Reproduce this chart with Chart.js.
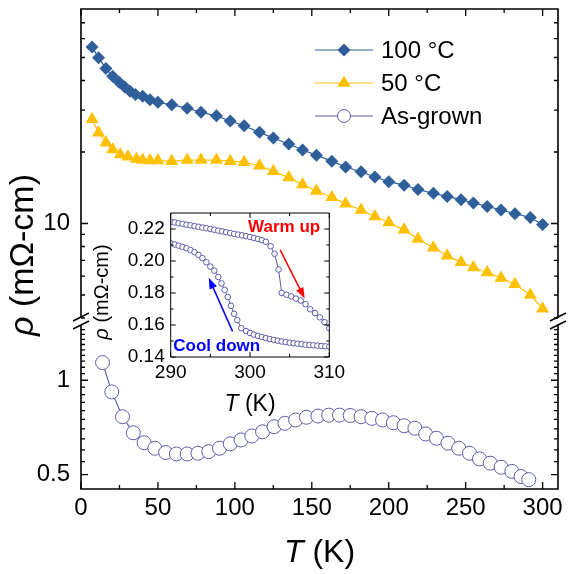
<!DOCTYPE html>
<html>
<head>
<meta charset="utf-8">
<title>Resistivity vs temperature</title>
<script src="https://cdn.jsdelivr.net/npm/chart.js@4.4.1/dist/chart.umd.min.js"></script>
<style>
  body { margin: 0; background: #fff; }
  #box { position: relative; width: 568px; height: 574px; }
  #box canvas { position: absolute; left: 0; top: 0; }
</style>
</head>
<body>
<div id="box">
  <canvas id="upper" width="568" height="574"></canvas>
  <canvas id="lower" width="568" height="574"></canvas>
  <canvas id="inset" width="568" height="574"></canvas>
</div>
<script>
// 100 °C annealed
const t100 = [7.2, 11.4, 16.2, 20.6, 24.8, 28.4, 31.9, 35.4, 40.1, 44.8, 50,
  59, 69, 78, 88, 97, 106, 116, 125, 135, 144, 153, 163, 172, 182, 191, 200,
  210, 219, 229, 238, 247, 255, 264, 273, 282, 292, 300];
const rho100 = [55.3, 49.9, 44.9, 41.7, 39.3, 37.6, 36.0, 34.9, 34.3, 33.2, 32.4,
  31.6, 30.6, 29.4, 28.4, 27.0, 25.8, 24.2, 22.9, 21.6, 20.4, 19.4, 18.3, 17.3, 16.5, 15.7, 15.0,
  14.5, 13.9, 13.4, 13.0, 12.6, 12.2, 11.8, 11.4, 11.0, 10.6, 9.9];

// 50 °C annealed
const t50 = [7.2, 11.4, 16.2, 20.6, 25.5, 30.5, 36, 40.1, 44.8, 50,
  59, 69, 78, 88, 97, 106, 116, 125, 135, 144, 153, 163, 172, 182, 191, 200,
  210, 219, 229, 238, 247, 255, 264, 273, 282, 292, 300];
const rho50 = [27.5, 24.1, 21.9, 20.5, 19.5, 19.1, 18.7, 18.5, 18.4, 18.4,
  18.3, 18.5, 18.5, 18.5, 18.3, 18.1, 17.5, 16.6, 15.6, 14.6, 13.7, 12.9, 12.1, 11.4, 10.7, 10.1,
  9.4, 8.6, 7.9, 7.32, 6.86, 6.53, 6.22, 5.89, 5.55, 5.0, 4.38];

// as-grown
const tGrown = [14, 20, 27, 34, 41, 48, 55, 62, 69, 76, 83, 90, 97, 104, 111, 118,
  125.5, 132.5, 139.5, 146.5, 154, 161, 168, 175, 182, 189, 196, 203, 210, 217,
  224, 231, 238.5, 245.5, 252.5, 259, 266, 273, 280, 286, 291];
const rhoGrown = [1.138, 0.918, 0.765, 0.680, 0.632, 0.607, 0.588, 0.582, 0.582, 0.585,
  0.592, 0.607, 0.627, 0.645, 0.664, 0.685, 0.711, 0.729, 0.747, 0.762,
  0.769, 0.774, 0.774, 0.772, 0.765, 0.756, 0.747, 0.732, 0.716, 0.703,
  0.674, 0.653, 0.630, 0.607, 0.585, 0.561, 0.544, 0.528, 0.512, 0.493, 0.482];

// inset: as-grown around the transition
const tWarm = [290, 290.5, 291, 291.5, 292, 292.5, 293, 293.5, 294, 294.5, 295, 295.5,
  296, 296.5, 297, 297.5, 298, 298.5, 299, 299.5, 300, 300.5, 301, 301.5, 302,
  302.6, 303.1, 303.6, 304, 304.6, 305.2, 305.8, 306.4, 307, 307.6, 308.2, 308.8, 309.4, 310];
const rhoWarm = [0.2245, 0.2241, 0.2236, 0.2232, 0.2227, 0.2223, 0.2218, 0.2214, 0.2209, 0.2205,
  0.2200, 0.2195, 0.2190, 0.2185, 0.2180, 0.2175, 0.2170, 0.2165, 0.2160, 0.2155, 0.2150,
  0.2144, 0.2138, 0.2130, 0.2120, 0.2092, 0.2045, 0.1947, 0.1800, 0.1789, 0.1779, 0.1765,
  0.1753, 0.1730, 0.1698, 0.1674, 0.1648, 0.1618, 0.1580];
const tCool = [290, 290.5, 291, 291.5, 292, 292.5, 293, 293.5, 294, 294.5, 295, 295.5,
  296, 296.4, 296.8, 297.2, 297.6, 298, 298.4, 298.9, 299.5, 300, 300.5, 301, 301.5,
  302, 302.5, 303, 303.5, 304, 304.5, 305, 305.5, 306, 306.5, 307, 307.5, 308, 308.5,
  309, 309.5, 310];
const rhoCool = [0.2110, 0.2103, 0.2096, 0.2088, 0.2080, 0.2068, 0.2055, 0.2038, 0.2018, 0.1992,
  0.1965, 0.1940, 0.1900, 0.1860, 0.1820, 0.1775, 0.1720, 0.1670, 0.1630, 0.1580, 0.1562,
  0.1550, 0.1540, 0.1532, 0.1525, 0.1518, 0.1512, 0.1507, 0.1502, 0.1497, 0.1493, 0.1489,
  0.1486, 0.1483, 0.1480, 0.1477, 0.1475, 0.1473, 0.1471, 0.1469, 0.1467, 0.1465];

// ticks
const xMajor = [0, 50, 100, 150, 200, 250, 300];
const xMinor = [25, 75, 125, 175, 225, 275];
const upMajor = [10];
const upMinor = [4, 5, 6, 7, 8, 9, 20, 30, 40, 50, 60, 70];
const lowMajor = [0.5, 1];
const lowMinor = [0.55, 0.6, 0.65, 0.7, 0.75, 0.8, 0.85, 0.9, 0.95,
  1.05, 1.1, 1.15, 1.2, 1.25, 1.3, 1.35, 1.4, 1.45];
const inXMajor = [290, 300, 310];
const inXMinor = [295, 305];
const inYMajor = [0.14, 0.16, 0.18, 0.20, 0.22];
const inYMinor = [0.15, 0.17, 0.19, 0.21];

const FONT = '"Liberation Sans", Arial, sans-serif';
const BLUE = '#2f5f9b', GOLD = '#ffc000', PURPLE = '#5c5ca8';

const pts = (xs, ys) => xs.map((x, i) => ({x: x, y: ys[i]}));
const setTicks = vals => s => { s.ticks = vals.map(v => ({value: v})); };
// fixed axis size, no extra padding from the tick labels
const fixW = w => s => { s.width = w; s.paddingTop = 0; s.paddingBottom = 0; };
const fixH = h => s => { s.height = h; s.paddingLeft = 0; s.paddingRight = 0; };

// inward ticks + frame
function frame(chart, o) {
  const {ctx, chartArea: a, scales} = chart;
  const sx = scales.x, sy = scales.y;
  ctx.save();
  ctx.strokeStyle = '#000';
  ctx.lineWidth = o.tw;
  ctx.beginPath();
  [[o.xMaj, o.maj], [o.xMin, o.min]].forEach(([vals, len]) => vals.forEach(v => {
    const p = sx.getPixelForValue(v);
    if (o.top) { ctx.moveTo(p, a.top); ctx.lineTo(p, a.top + len); }
    if (o.bottom) { ctx.moveTo(p, a.bottom); ctx.lineTo(p, a.bottom - len); }
  }));
  [[o.yMaj, o.maj], [o.yMin, o.min]].forEach(([vals, len]) => vals.forEach(v => {
    const p = sy.getPixelForValue(v);
    ctx.moveTo(a.left, p); ctx.lineTo(a.left + len, p);
    ctx.moveTo(a.right, p); ctx.lineTo(a.right - len, p);
  }));
  ctx.stroke();
  ctx.lineWidth = o.fw;
  ctx.beginPath();
  if (o.top && o.bottom) {
    ctx.rect(a.left, a.top, a.right - a.left, a.bottom - a.top);
  } else if (o.top) {
    ctx.moveTo(a.left, a.bottom); ctx.lineTo(a.left, a.top);
    ctx.lineTo(a.right, a.top); ctx.lineTo(a.right, a.bottom);
  } else {
    ctx.moveTo(a.left, a.top); ctx.lineTo(a.left, a.bottom);
    ctx.lineTo(a.right, a.bottom); ctx.lineTo(a.right, a.top);
  }
  ctx.stroke();
  ctx.restore();
}

function mixedText(ctx, parts, x, y, size, rotate) {
  ctx.save();
  ctx.translate(x, y);
  if (rotate) ctx.rotate(-Math.PI / 2);
  ctx.textBaseline = 'middle';
  ctx.textAlign = 'left';
  ctx.fillStyle = '#000';
  const fonts = parts.map(p => (p[1] ? 'italic ' : '') + size + 'px ' + FONT);
  let w = 0;
  parts.forEach((p, i) => { ctx.font = fonts[i]; w += ctx.measureText(p[0]).width; });
  let cx = -w / 2;
  parts.forEach((p, i) => {
    ctx.font = fonts[i];
    ctx.fillText(p[0], cx, 0);
    cx += ctx.measureText(p[0]).width;
  });
  ctx.restore();
}

function marker(ctx, shape, color, x, y) {
  ctx.save();
  ctx.beginPath();
  if (shape === 'diamond') {
    const r = 6.5;
    ctx.moveTo(x - r, y); ctx.lineTo(x, y - r); ctx.lineTo(x + r, y); ctx.lineTo(x, y + r);
    ctx.closePath(); ctx.fillStyle = color; ctx.fill();
  } else if (shape === 'triangle') {
    const r = 7.5;
    for (let k = 0; k < 3; k++) {
      const ang = k * 2 * Math.PI / 3;
      const px = x + Math.sin(ang) * r, py = y - Math.cos(ang) * r;
      if (k === 0) ctx.moveTo(px, py); else ctx.lineTo(px, py);
    }
    ctx.closePath(); ctx.fillStyle = color; ctx.fill();
  } else {
    ctx.arc(x, y, 6.5, 0, 2 * Math.PI);
    ctx.fillStyle = '#fff'; ctx.fill();
    ctx.strokeStyle = color; ctx.lineWidth = 1; ctx.stroke();
  }
  ctx.restore();
}

const legendRows = [
  ['100 °C', 'diamond', BLUE],
  ['50 °C', 'triangle', GOLD],
  ['As-grown', 'circle', PURPLE]
];

const upperDeco = {
  id: 'upperDeco',
  afterDraw(chart) {
    const {ctx, chartArea: a} = chart;
    frame(chart, {xMaj: xMajor, xMin: xMinor, yMaj: upMajor, yMin: upMinor,
      top: true, bottom: false, maj: 7, min: 4, tw: 1.3, fw: 1.6});
    // axis break marks
    ctx.save();
    ctx.strokeStyle = '#000';
    ctx.lineWidth = 1.4;
    ctx.beginPath();
    [a.left, a.right].forEach(x => [a.bottom - 1, a.bottom + 7].forEach(y => {
      ctx.moveTo(x - 8, y + 4); ctx.lineTo(x + 8, y - 4);
    }));
    ctx.stroke();
    ctx.restore();
    // legend
    legendRows.forEach((r, i) => {
      const y = a.top + 41 + i * 33;
      ctx.save();
      ctx.strokeStyle = r[2]; ctx.lineWidth = 1.2;
      ctx.beginPath(); ctx.moveTo(a.left + 234, y); ctx.lineTo(a.left + 292, y); ctx.stroke();
      ctx.restore();
      marker(ctx, r[1], r[2], a.left + 263, y);
      ctx.save();
      ctx.fillStyle = '#000'; ctx.font = '24px ' + FONT;
      ctx.textBaseline = 'middle'; ctx.textAlign = 'left';
      ctx.fillText(r[0], a.left + 300, y + 1);
      ctx.restore();
    });
    // y title across both panels
    mixedText(ctx, [['ρ', true], [' (mΩ-cm)', false]], 24, 255, 34, true);
  }
};

const lowerDeco = {
  id: 'lowerDeco',
  afterDraw(chart) {
    const a = chart.chartArea;
    frame(chart, {xMaj: xMajor, xMin: xMinor, yMaj: lowMajor, yMin: lowMinor,
      top: false, bottom: true, maj: 7, min: 4, tw: 1.3, fw: 1.6});
    mixedText(chart.ctx, [['T', true], [' (K)', false]], (a.left + a.right) / 2, a.bottom + 64, 32, false);
  }
};

function arrow(ctx, sx, sy, p0, p1, color) {
  const x0 = sx.getPixelForValue(p0[0]), y0 = sy.getPixelForValue(p0[1]);
  const x1 = sx.getPixelForValue(p1[0]), y1 = sy.getPixelForValue(p1[1]);
  const ang = Math.atan2(y1 - y0, x1 - x0);
  ctx.save();
  ctx.strokeStyle = color; ctx.fillStyle = color; ctx.lineWidth = 1.5;
  ctx.beginPath(); ctx.moveTo(x0, y0);
  ctx.lineTo(x1 - Math.cos(ang) * 8, y1 - Math.sin(ang) * 8); ctx.stroke();
  ctx.beginPath();
  ctx.moveTo(x1, y1);
  ctx.lineTo(x1 - Math.cos(ang) * 11 + Math.sin(ang) * 4, y1 - Math.sin(ang) * 11 - Math.cos(ang) * 4);
  ctx.lineTo(x1 - Math.cos(ang) * 11 - Math.sin(ang) * 4, y1 - Math.sin(ang) * 11 + Math.cos(ang) * 4);
  ctx.closePath(); ctx.fill();
  ctx.restore();
}

const insetDeco = {
  id: 'insetDeco',
  afterDraw(chart) {
    const {ctx, chartArea: a, scales: {x, y}} = chart;
    frame(chart, {xMaj: inXMajor, xMin: inXMinor, yMaj: inYMajor, yMin: inYMinor,
      top: true, bottom: true, maj: 5, min: 3, tw: 1, fw: 1});
    arrow(ctx, x, y, [303.8, 0.2069], [306.9, 0.1765], '#ff0000');
    arrow(ctx, x, y, [297.8, 0.156], [294.8, 0.1895], '#0000ff');
    ctx.save();
    ctx.font = 'bold 17px ' + FONT;
    ctx.textBaseline = 'middle'; ctx.textAlign = 'center';
    ctx.fillStyle = '#ff0000';
    ctx.fillText('Warm up', x.getPixelForValue(304.3), y.getPixelForValue(0.2212));
    ctx.fillStyle = '#0000ff';
    ctx.fillText('Cool down', x.getPixelForValue(295.8), y.getPixelForValue(0.1468));
    ctx.restore();
    mixedText(ctx, [['ρ', true], [' (mΩ-cm)', false]], a.left - 68, 292, 20, true);
    mixedText(ctx, [['T', true], [' (K)', false]], (a.left + a.right) / 2, a.bottom + 48, 23, false);
  }
};

const base = {
  responsive: false,
  animation: false,
  events: [],
  plugins: { legend: { display: false }, tooltip: { enabled: false } }
};

new Chart(document.getElementById('upper'), {
  type: 'scatter',
  data: {
    datasets: [
      { label: '100 °C', data: pts(t100, rho100), showLine: true, borderColor: BLUE, backgroundColor: BLUE,
        borderWidth: 1.2, pointStyle: 'rectRot', pointRadius: 6.5, pointBorderWidth: 0 },
      { label: '50 °C', data: pts(t50, rho50), showLine: true, borderColor: GOLD, backgroundColor: GOLD,
        borderWidth: 1.2, pointStyle: 'triangle', pointRadius: 7.5, pointBorderWidth: 0 }
    ]
  },
  options: Object.assign({}, base, {
    layout: { autoPadding: false, padding: { left: 0, top: 9, right: 10, bottom: 256 } },
    scales: {
      x: { type: 'linear', min: 0, max: 310, display: false },
      y: {
        type: 'logarithmic', min: 4, max: 80,
        afterFit: fixW(81),
        afterBuildTicks: setTicks(upMajor),
        grid: { display: false, drawTicks: false }, border: { display: false },
        ticks: { color: '#000', padding: 11, font: { family: FONT, size: 24 }, callback: v => String(v) }
      }
    }
  }),
  plugins: [upperDeco]
});

new Chart(document.getElementById('lower'), {
  type: 'scatter',
  data: {
    datasets: [
      { label: 'As-grown', data: pts(tGrown, rhoGrown), showLine: true, borderColor: PURPLE,
        backgroundColor: '#fff', borderWidth: 1.2, pointStyle: 'circle', pointRadius: 7,
        pointBorderWidth: 1, pointBorderColor: PURPLE, pointBackgroundColor: '#fff' }
    ]
  },
  options: Object.assign({}, base, {
    layout: { autoPadding: false, padding: { left: 0, top: 325, right: 10, bottom: 0 } },
    scales: {
      x: {
        type: 'linear', min: 0, max: 310,
        afterFit: fixH(85),
        afterBuildTicks: setTicks(xMajor),
        grid: { display: false, drawTicks: false }, border: { display: false },
        ticks: { color: '#000', padding: 5, maxRotation: 0, font: { family: FONT, size: 24 } }
      },
      y: {
        type: 'logarithmic', min: 0.45, max: 1.5,
        afterFit: fixW(81),
        afterBuildTicks: setTicks(lowMajor),
        grid: { display: false, drawTicks: false }, border: { display: false },
        ticks: { color: '#000', padding: 11, font: { family: FONT, size: 24 }, callback: v => String(v) }
      }
    }
  }),
  plugins: [lowerDeco]
});

const ring = { showLine: true, borderColor: PURPLE, backgroundColor: '#fff', borderWidth: 1,
  pointStyle: 'circle', pointRadius: 2.8, pointBorderWidth: 1, pointBorderColor: PURPLE,
  pointBackgroundColor: '#fff' };

new Chart(document.getElementById('inset'), {
  type: 'scatter',
  data: {
    datasets: [
      Object.assign({ label: 'Warm up', data: pts(tWarm, rhoWarm) }, ring),
      Object.assign({ label: 'Cool down', data: pts(tCool, rhoCool) }, ring)
    ]
  },
  options: Object.assign({}, base, {
    layout: { autoPadding: false, padding: { left: 100, top: 213, right: 238.7, bottom: 177 } },
    scales: {
      x: {
        type: 'linear', min: 290, max: 310,
        afterFit: fixH(40),
        afterBuildTicks: setTicks(inXMajor),
        grid: { display: false, drawTicks: false }, border: { display: false },
        ticks: { color: '#000', padding: 4, maxRotation: 0, font: { family: FONT, size: 19 } }
      },
      y: {
        type: 'linear', min: 0.14, max: 0.23,
        afterFit: fixW(70.7),
        afterBuildTicks: setTicks(inYMajor),
        grid: { display: false, drawTicks: false }, border: { display: false },
        ticks: { color: '#000', padding: 6, font: { family: FONT, size: 19 }, callback: v => v.toFixed(2) }
      }
    }
  }),
  plugins: [insetDeco]
});
</script>
</body>
</html>
